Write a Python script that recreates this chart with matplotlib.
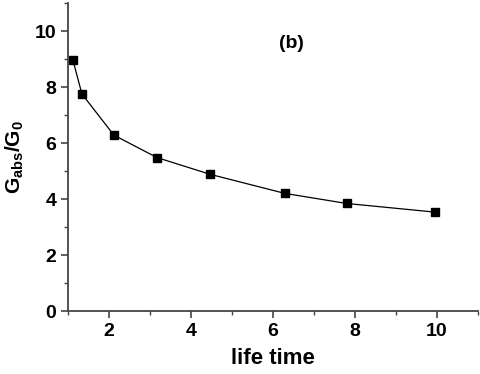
import matplotlib
matplotlib.use("Agg")
import matplotlib.pyplot as plt
from matplotlib.ticker import MultipleLocator

x_vals = [1.12, 1.34, 2.12, 3.17, 4.47, 6.29, 7.8, 9.96]
y_vals = [8.96, 7.75, 6.28, 5.48, 4.88, 4.2, 3.84, 3.53]

plt.rcParams['font.family'] = ['Liberation Sans', 'DejaVu Sans']
plt.rcParams['font.weight'] = 'bold'
plt.rcParams['mathtext.fontset'] = 'custom'
plt.rcParams['mathtext.rm'] = 'Liberation Sans:bold'
plt.rcParams['mathtext.bf'] = 'Liberation Sans:bold'
plt.rcParams['mathtext.it'] = 'Liberation Sans:bold'
plt.rcParams['mathtext.default'] = 'rm'

fig = plt.figure(figsize=(4.8, 3.74), dpi=100)
ax = fig.add_axes([68/480, 1-311/374, (478-68)/480, (311-3)/374])

ax.plot(x_vals, y_vals, color='black', linewidth=0.9, marker='s', markersize=6,
        markerfacecolor='black', markeredgecolor='black')

ax.set_xlim(1, 11)
ax.set_ylim(0, 11)
ax.xaxis.set_major_locator(MultipleLocator(2))
ax.xaxis.set_minor_locator(MultipleLocator(1))
ax.yaxis.set_major_locator(MultipleLocator(2))
ax.yaxis.set_minor_locator(MultipleLocator(1))
ax.set_xticks([2, 4, 6, 8, 10])

for s in ['top', 'right']:
    ax.spines[s].set_visible(False)
for s in ['left', 'bottom']:
    ax.spines[s].set_color('#444444')
    ax.spines[s].set_linewidth(1.3)

ax.tick_params(which='major', direction='out', length=5, width=1.2, color='#444444',
               labelsize=14)
ax.tick_params(which='minor', direction='out', length=3, width=1.0, color='#444444')
for lab in ax.get_xticklabels() + ax.get_yticklabels():
    lab.set_fontweight('bold')

ax.set_xlabel('life time', fontsize=16, fontweight='bold', labelpad=6)
ax.set_ylabel('G$_{abs}$/G$_{0}$', fontsize=15, fontweight='bold', labelpad=6)
ax.text(6.45, 9.55, '(b)', fontsize=14, fontweight='bold', ha='center', va='center')

fig.savefig('out.png', dpi=100)
